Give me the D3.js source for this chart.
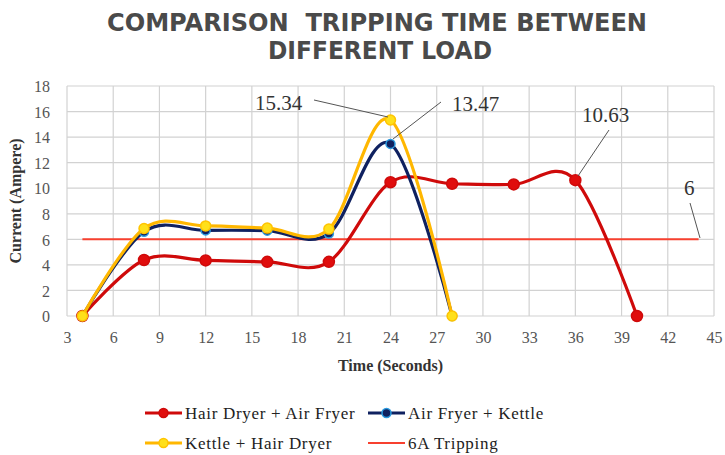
<!DOCTYPE html>
<html>
<head>
<meta charset="utf-8">
<script src="https://cdn.jsdelivr.net/npm/d3@7"></script>
<style>
  body { margin: 0; background: #fff; }
  svg { display: block; }
</style>
</head>
<body>
<svg id="chart" width="725" height="455"></svg>
<script>
// chart data
const times = [4, 8, 12, 16, 20, 24, 28, 32, 36, 40]
const hairDryerAirFryer = [0, 4.38, 4.35, 4.24, 4.24, 10.47, 10.35, 10.3, 10.63, 0]
const airFryerKettle = [0, 6.6, 6.7, 6.68, 6.45, 13.47, 0]
const kettleHairDryer = [0, 6.85, 7.05, 6.88, 6.8, 15.34, 0]
const trippingTimes = [4, 44]
const trippingLevel = 6
const xTicks = [3, 6, 9, 12, 15, 18, 21, 24, 27, 30, 33, 36, 39, 42, 45]
const yTicks = [0, 2, 4, 6, 8, 10, 12, 14, 16, 18]
const seriesNames = ['Hair Dryer + Air Fryer', 'Air Fryer + Kettle', 'Kettle + Hair Dryer', '6A Tripping']

const width = 725,
  height = 455
const margin = { top: 86, right: 11, bottom: 139, left: 67 }

const svg = d3.select('#chart')

const x = d3.scaleLinear().domain([3, 45]).range([margin.left, width - margin.right])
const y = d3.scaleLinear().domain([0, 18]).range([height - margin.bottom, margin.top])

// title
const title = svg.append('g')
  .style('font-family', "'DejaVu Sans', sans-serif")
  .style('font-weight', 'bold')
  .style('font-size', '24px')
  .attr('fill', '#4a4a4a')
  .attr('text-anchor', 'middle')
title.append('text').attr('x', 377).attr('y', 31)
  .style('white-space', 'pre')
  .attr('textLength', 540).attr('lengthAdjust', 'spacingAndGlyphs')
  .text('COMPARISON  TRIPPING TIME BETWEEN')
title.append('text').attr('x', 380).attr('y', 59)
  .attr('textLength', 224).attr('lengthAdjust', 'spacingAndGlyphs')
  .text('DIFFERENT LOAD')

// grid
const grid = svg.append('g').attr('stroke', '#d2d2d2').attr('stroke-width', 1.2)
grid.selectAll('.vg')
  .data(xTicks)
  .enter()
  .append('line')
  .attr('x1', d => x(d)).attr('x2', d => x(d))
  .attr('y1', y(0)).attr('y2', y(18))
grid.selectAll('.hg')
  .data(yTicks)
  .enter()
  .append('line')
  .attr('x1', x(3)).attr('x2', x(45))
  .attr('y1', d => y(d)).attr('y2', d => y(d))

// axes (labels only, Excel style)
const tickFont = "'Liberation Serif', 'Times New Roman', serif"
const xAxis = svg.append('g')
  .attr('transform', `translate(0,${y(0)})`)
  .call(d3.axisBottom(x).tickValues(xTicks).tickSize(0).tickPadding(16))
const yAxis = svg.append('g')
  .attr('transform', `translate(${x(3)},0)`)
  .call(d3.axisLeft(y).tickValues(yTicks).tickSize(0).tickPadding(17))
;[xAxis, yAxis].forEach(a => {
  a.select('.domain').remove()
  a.selectAll('text')
    .style('font-family', tickFont)
    .style('font-size', '16px')
    .attr('fill', '#555')
})
yAxis.selectAll('text').attr('dy', '0.36em')

svg.append('text') // x axis title
  .attr('x', (x(3) + x(45)) / 2)
  .attr('y', 371)
  .attr('text-anchor', 'middle')
  .style('font-family', tickFont)
  .style('font-weight', 'bold')
  .style('font-size', '16px')
  .attr('fill', '#333')
  .text('Time (Seconds)')

svg.append('text') // y axis title
  .attr('transform', `translate(21,${(y(0) + y(18)) / 2}) rotate(-90)`)
  .attr('text-anchor', 'middle')
  .style('font-family', tickFont)
  .style('font-weight', 'bold')
  .style('font-size', '16px')
  .attr('fill', '#333')
  .text('Current (Ampere)')

// 6A tripping line
svg.append('line')
  .attr('x1', x(trippingTimes[0])).attr('x2', x(trippingTimes[1]))
  .attr('y1', y(trippingLevel)).attr('y2', y(trippingLevel))
  .attr('stroke', '#f7402f')
  .attr('stroke-width', 2)

const line = d3.line()
  .x(d => x(d[0]))
  .y(d => y(d[1]))
  .curve(d3.curveCardinal.tension(0))

const series = [
  { values: hairDryerAirFryer, stroke: '#cf0a0a', fill: '#e00d0d', ring: '#cf0a0a', r: 5.5 },
  { values: airFryerKettle, stroke: '#0f2160', fill: '#0f2160', ring: '#2b9be0', r: 4.5 },
  { values: kettleHairDryer, stroke: '#ffb700', fill: '#ffe01a', ring: '#ffc400', r: 5 }
]

series.forEach(s => {
  const pts = s.values.map((v, i) => [times[i], v])
  svg.append('path')
    .datum(pts)
    .attr('d', line)
    .attr('fill', 'none')
    .attr('stroke', s.stroke)
    .attr('stroke-width', 3.2)
  svg.selectAll(null)
    .data(pts)
    .enter()
    .append('circle')
    .attr('cx', d => x(d[0]))
    .attr('cy', d => y(d[1]))
    .attr('r', s.r)
    .attr('fill', s.fill)
    .attr('stroke', s.ring)
    .attr('stroke-width', 1.5)
})

// data callouts
const callouts = [
  { v: 15.34, tx: 255, ty: 110, lx1: 314, ly1: 100, lx2: 388, ly2: 117 },
  { v: 13.47, tx: 452, ty: 111, lx1: 441, ly1: 102, lx2: 393, ly2: 139 },
  { v: 10.63, tx: 582, ty: 122, lx1: 609, ly1: 130, lx2: 578, ly2: 176 },
  { v: 6, tx: 684, ty: 195, lx1: 690, ly1: 203, lx2: 700, ly2: 238 }
]
const co = svg.append('g')
co.selectAll('line')
  .data(callouts)
  .enter()
  .append('line')
  .attr('x1', d => d.lx1).attr('y1', d => d.ly1)
  .attr('x2', d => d.lx2).attr('y2', d => d.ly2)
  .attr('stroke', '#555')
  .attr('stroke-width', 1)
co.selectAll('text')
  .data(callouts)
  .enter()
  .append('text')
  .attr('x', d => d.tx)
  .attr('y', d => d.ty)
  .style('font-family', tickFont)
  .style('font-size', '21px')
  .attr('fill', '#333')
  .text(d => String(d.v))

// legend
const legendPos = [[145, 413], [368, 413], [145, 443], [368, 443]]
const legendStyle = [
  { stroke: '#cf0a0a', fill: '#e00d0d', ring: '#cf0a0a', w: 3.2, marker: true },
  { stroke: '#0f2160', fill: '#0f2160', ring: '#2b9be0', w: 3.2, marker: true },
  { stroke: '#ffb700', fill: '#ffe01a', ring: '#ffc400', w: 3.2, marker: true },
  { stroke: '#f7402f', w: 2, marker: false }
]
const lg = svg.append('g')
  .selectAll('g')
  .data(seriesNames)
  .enter()
  .append('g')
  .attr('transform', (d, i) => `translate(${legendPos[i][0]},${legendPos[i][1]})`)
lg.append('line')
  .attr('x1', 0).attr('x2', 37)
  .attr('stroke', (d, i) => legendStyle[i].stroke)
  .attr('stroke-width', (d, i) => legendStyle[i].w)
lg.filter((d, i) => legendStyle[i].marker)
  .append('circle')
  .attr('cx', 18.5)
  .attr('r', 4.5)
  .attr('fill', d => legendStyle[seriesNames.indexOf(d)].fill)
  .attr('stroke', d => legendStyle[seriesNames.indexOf(d)].ring)
  .attr('stroke-width', 1.5)
lg.append('text')
  .attr('x', 40)
  .attr('dy', '0.35em')
  .style('font-family', tickFont)
  .style('font-size', '17px')
  .style('letter-spacing', '0.7px')
  .attr('fill', '#222')
  .text(d => d)
</script>
</body>
</html>
